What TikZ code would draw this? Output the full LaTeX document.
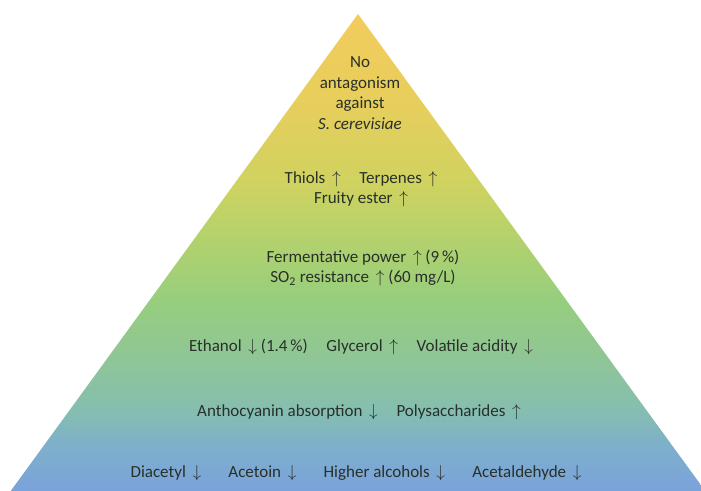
\documentclass[tikz,border=0pt]{standalone}
\usepackage{fontspec}
\setmainfont{Carlito}
\usepackage{tikz}
\usetikzlibrary{positioning}

\definecolor{pyrblue}{RGB}{122,162,220}
\definecolor{pyrsky}{RGB}{126,176,202}
\definecolor{pyrteal}{RGB}{133,190,176}
\definecolor{pyrmint}{RGB}{144,198,148}
\definecolor{pyrgreen}{RGB}{150,206,126}
\definecolor{pyrlime}{RGB}{184,210,106}
\definecolor{pyrolive}{RGB}{208,210,96}
\definecolor{pyrgold}{RGB}{232,206,92}
\definecolor{pyrtop}{RGB}{242,204,92}
\definecolor{pyrtext}{RGB}{40,48,40}

\pgfdeclareverticalshading{pyramid}{100bp}{%
  color(0bp)=(pyrblue); color(25bp)=(pyrblue); color(30bp)=(pyrsky);
  color(33.5bp)=(pyrteal); color(39.5bp)=(pyrmint); color(45bp)=(pyrgreen);
  color(52.5bp)=(pyrlime); color(57.5bp)=(pyrolive); color(66bp)=(pyrgold);
  color(75bp)=(pyrtop); color(100bp)=(pyrtop)}

\newcommand{\up}{\,$\uparrow$}
\newcommand{\down}{\,$\downarrow$}

\begin{document}
\begin{tikzpicture}[x=1pt, y=-1pt,
  tier/.style={text=pyrtext, font=\fontsize{17}{20.5}\selectfont, align=center, inner sep=0pt}]
  \useasboundingbox (0,0) rectangle (701,490);
  \begin{scope}
    \clip (0,0) rectangle (701,490);
    \shade[shading=pyramid] (10,492) -- (358,14) -- (706,492) -- cycle;
  \end{scope}

  \node (top) [tier] at (360,93) {No\\antagonism\\against\\\textit{S. cerevisiae}};
  \node (aroma) [tier] at (361,189) {Thiols \up\hspace{1.1em}Terpenes \up\\Fruity ester \up};
  \node (ferment) [tier] at (363,268) {Fermentative power \up\ (9\,\%)\\SO\textsubscript{2} resistance \up\ (60 mg/L)};
  \node (ethanol) [tier] at (361,347) {Ethanol \down\ (1.4\,\%)\hspace{1.1em}Glycerol \up\hspace{1.1em}Volatile acidity \down};
  \node (antho) [tier] at (359,412) {Anthocyanin absorption \down\hspace{1.1em}Polysaccharides \up};
  \node (diacetyl) [tier] at (356,473) {Diacetyl \down\hspace{1.6em}Acetoin \down\hspace{1.6em}Higher alcohols \down\hspace{1.6em}Acetaldehyde \down};
\end{tikzpicture}
\end{document}
